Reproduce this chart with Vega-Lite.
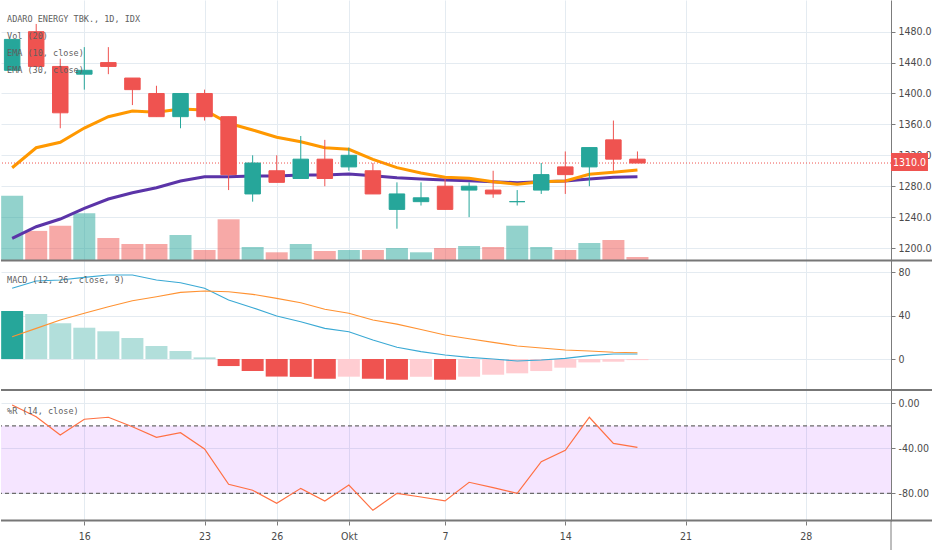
{
  "$schema": "https://vega.github.io/schema/vega-lite/v6.json",
  "padding": 0,
  "background": "#ffffff",
  "bounds": "flush",
  "spacing": 0,
  "config": {
    "view": {"stroke": null},
    "axis": {
      "labelFont": "'Liberation Sans Narrow', 'DejaVu Sans Condensed', 'Liberation Sans', sans-serif",
      "labelFontSize": 10.5,
      "labelColor": "#4a4a4a",
      "gridColor": "#e4ebf1",
      "gridWidth": 1,
      "tickColor": "#7c7c7c",
      "domainColor": "#7c7c7c",
      "labelFlush": false,
      "labelOverlap": false
    }
  },
  "datasets": {
    "bars": [
      {"i": -3, "date": "2019-09-11", "open": 1430, "high": 1470, "low": 1430, "close": 1470, "volume": 64.2, "ema10": 1303.9, "ema30": 1212.6, "macd": 65.3, "signal": 20.6, "hist": 44.3, "wr": -1.5},
      {"i": -2, "date": "2019-09-12", "open": 1480, "high": 1490, "low": 1435, "close": 1435, "volume": 29.1, "ema10": 1329.8, "ema30": 1227.6, "macd": 72.0, "signal": 28.3, "hist": 41.5, "wr": -11.9},
      {"i": -1, "date": "2019-09-13", "open": 1435, "high": 1445, "low": 1355, "close": 1375, "volume": 34.3, "ema10": 1336.8, "ema30": 1237.5, "macd": 72.9, "signal": 36.0, "hist": 33.0, "wr": -28.2},
      {"i": 0, "date": "2019-09-16", "open": 1425, "high": 1460, "low": 1405, "close": 1430, "volume": 46.7, "ema10": 1355.3, "ema30": 1251.4, "macd": 75.4, "signal": 42.2, "hist": 28.9, "wr": -14.2},
      {"i": 1, "date": "2019-09-17", "open": 1440, "high": 1460, "low": 1425, "close": 1435, "volume": 22.0, "ema10": 1370.0, "ema30": 1263.4, "macd": 77.5, "signal": 48.3, "hist": 25.6, "wr": -12.4},
      {"i": 2, "date": "2019-09-18", "open": 1420, "high": 1420, "low": 1385, "close": 1405, "volume": 16.0, "ema10": 1377.3, "ema30": 1271.6, "macd": 77.5, "signal": 53.8, "hist": 19.4, "wr": -20.8},
      {"i": 3, "date": "2019-09-19", "open": 1400, "high": 1410, "low": 1370, "close": 1370, "volume": 16.0, "ema10": 1375.7, "ema30": 1278.0, "macd": 72.9, "signal": 57.5, "hist": 12.0, "wr": -30.2},
      {"i": 4, "date": "2019-09-20", "open": 1370, "high": 1400, "low": 1355, "close": 1400, "volume": 25.0, "ema10": 1379.9, "ema30": 1286.7, "macd": 70.4, "signal": 61.5, "hist": 7.4, "wr": -26.1},
      {"i": 5, "date": "2019-09-23", "open": 1400, "high": 1405, "low": 1365, "close": 1370, "volume": 10.0, "ema10": 1378.6, "ema30": 1292.3, "macd": 65.3, "signal": 62.8, "hist": 1.5, "wr": -40.6},
      {"i": 6, "date": "2019-09-24", "open": 1370, "high": 1370, "low": 1275, "close": 1295, "volume": 40.7, "ema10": 1361.4, "ema30": 1292.3, "macd": 54.5, "signal": 62.1, "hist": -6.5, "wr": -72.0},
      {"i": 7, "date": "2019-09-25", "open": 1270, "high": 1320, "low": 1260, "close": 1310, "volume": 13.0, "ema10": 1352.8, "ema30": 1293.2, "macd": 47.4, "signal": 59.7, "hist": -11.1, "wr": -77.3},
      {"i": 8, "date": "2019-09-26", "open": 1300, "high": 1320, "low": 1285, "close": 1285, "volume": 7.7, "ema10": 1343.3, "ema30": 1293.2, "macd": 39.7, "signal": 56.0, "hist": -16.2, "wr": -88.9},
      {"i": 9, "date": "2019-09-27", "open": 1290, "high": 1345, "low": 1290, "close": 1315, "volume": 16.0, "ema10": 1337.6, "ema30": 1294.5, "macd": 34.4, "signal": 52.0, "hist": -16.5, "wr": -75.6},
      {"i": 10, "date": "2019-09-30", "open": 1315, "high": 1340, "low": 1280, "close": 1290, "volume": 9.0, "ema10": 1329.8, "ema30": 1294.5, "macd": 28.3, "signal": 45.9, "hist": -18.2, "wr": -86.8},
      {"i": 11, "date": "2019-10-01", "open": 1305, "high": 1330, "low": 1300, "close": 1320, "volume": 10.0, "ema10": 1327.8, "ema30": 1295.8, "macd": 25.2, "signal": 42.2, "hist": -16.3, "wr": -72.6},
      {"i": 12, "date": "2019-10-02", "open": 1300, "high": 1310, "low": 1270, "close": 1270, "volume": 10.0, "ema10": 1314.8, "ema30": 1293.6, "macd": 17.5, "signal": 36.0, "hist": -18.2, "wr": -95.1},
      {"i": 13, "date": "2019-10-03", "open": 1250, "high": 1285, "low": 1225, "close": 1270, "volume": 12.0, "ema10": 1304.0, "ema30": 1291.0, "macd": 10.8, "signal": 32.2, "hist": -19.1, "wr": -80.0},
      {"i": 14, "date": "2019-10-04", "open": 1260, "high": 1285, "low": 1255, "close": 1265, "volume": 7.7, "ema10": 1297.0, "ema30": 1289.3, "macd": 6.8, "signal": 27.2, "hist": -16.4, "wr": -83.3},
      {"i": 15, "date": "2019-10-07", "open": 1280, "high": 1290, "low": 1250, "close": 1250, "volume": 12.0, "ema10": 1291.5, "ema30": 1288.0, "macd": 3.7, "signal": 22.2, "hist": -19.1, "wr": -86.8},
      {"i": 16, "date": "2019-10-08", "open": 1275, "high": 1285, "low": 1240, "close": 1280, "volume": 14.0, "ema10": 1290.2, "ema30": 1287.1, "macd": 1.5, "signal": 18.7, "hist": -16.3, "wr": -70.2},
      {"i": 17, "date": "2019-10-09", "open": 1275, "high": 1300, "low": 1265, "close": 1270, "volume": 13.0, "ema10": 1285.8, "ema30": 1285.8, "macd": 0.0, "signal": 15.4, "hist": -14.5, "wr": -75.0},
      {"i": 18, "date": "2019-10-10", "open": 1260, "high": 1275, "low": 1255, "close": 1260, "volume": 34.3, "ema10": 1282.5, "ema30": 1284.5, "macd": -1.8, "signal": 12.0, "hist": -13.2, "wr": -80.0},
      {"i": 19, "date": "2019-10-11", "open": 1275, "high": 1310, "low": 1270, "close": 1295, "volume": 13.0, "ema10": 1285.8, "ema30": 1285.8, "macd": -0.9, "signal": 10.2, "hist": -11.1, "wr": -51.9},
      {"i": 20, "date": "2019-10-14", "open": 1305, "high": 1325, "low": 1270, "close": 1295, "volume": 10.0, "ema10": 1286.7, "ema30": 1286.7, "macd": 0.6, "signal": 8.3, "hist": -8.0, "wr": -41.8},
      {"i": 21, "date": "2019-10-15", "open": 1305, "high": 1330, "low": 1280, "close": 1330, "volume": 17.0, "ema10": 1295.4, "ema30": 1289.3, "macd": 3.1, "signal": 7.4, "hist": -3.1, "wr": -12.4},
      {"i": 22, "date": "2019-10-16", "open": 1340, "high": 1365, "low": 1300, "close": 1315, "volume": 20.0, "ema10": 1298.0, "ema30": 1291.5, "macd": 4.6, "signal": 6.2, "hist": -2.5, "wr": -35.6},
      {"i": 23, "date": "2019-10-17", "open": 1315, "high": 1325, "low": 1310, "close": 1310, "volume": 3.0, "ema10": 1301.0, "ema30": 1292.3, "macd": 4.6, "signal": 5.8, "hist": -1.0, "wr": -39.1}
    ]
  },
  "vconcat": [
    {
      "width": 890,
      "height": 260,
      "data": {"name": "bars"},
      "layer": [
        {
          "mark": {"type": "bar", "orient": "vertical", "size": 22, "opacity": 0.5},
          "encoding": {
            "x": {"field": "i", "type": "quantitative", "title": null, "scale": {"domain": [-3.464, 33.543], "nice": false, "zero": false, "padding": 0},
                  "axis": {"orient": "bottom", "values": [0, 5, 8, 11, 15, 20, 25, 30], "tickCount": 40, "grid": true, "labels": false, "ticks": false, "domain": false, "title": null}},
            "y": {"field": "volume", "type": "quantitative", "title": null, "scale": {"domain": [0, 260], "nice": false, "padding": 0}, "axis": null},
            "color": {"condition": {"test": "datum.close >= datum.open", "value": "#26a69a"}, "value": "#ef5350"}
          }
        },
        {
          "layer": [
            {
              "mark": {"type": "line", "color": "#5b34a8", "strokeWidth": 3, "clip": true},
              "encoding": {
                "x": {"field": "i", "type": "quantitative", "title": null},
                "y": {"field": "ema30", "type": "quantitative", "title": null, "scale": {"domain": [1184.5, 1521], "nice": false, "zero": false, "padding": 0},
                      "axis": {"orient": "right", "values": [1200, 1240, 1280, 1320, 1360, 1400, 1440, 1480], "tickCount": 40, "format": ".1f", "grid": true, "tickSize": 4, "labelPadding": 3, "domain": true, "title": null}}
              }
            },
            {
              "mark": {"type": "line", "color": "#ff9800", "strokeWidth": 3, "clip": true},
              "encoding": {
                "x": {"field": "i", "type": "quantitative", "title": null},
                "y": {"field": "ema10", "type": "quantitative", "title": null}
              }
            },
            {
              "data": {"values": [{}]},
              "mark": {"type": "rule", "color": "#ef5350", "strokeDash": [1, 2], "strokeWidth": 1},
              "encoding": {"y": {"datum": 1310, "type": "quantitative", "title": null}}
            },
            {
              "mark": {"type": "rule", "strokeWidth": 1},
              "encoding": {
                "x": {"field": "i", "type": "quantitative", "title": null},
                "y": {"field": "low", "type": "quantitative", "title": null},
                "y2": {"field": "high"},
                "color": {"condition": {"test": "datum.close >= datum.open", "value": "#26a69a"}, "value": "#ef5350"}
              }
            },
            {
              "mark": {"type": "bar", "orient": "vertical", "size": 15.5, "strokeWidth": 1},
              "encoding": {
                "x": {"field": "i", "type": "quantitative", "title": null},
                "y": {"field": "open", "type": "quantitative", "title": null},
                "y2": {"field": "close"},
                "fill": {"condition": {"test": "datum.close >= datum.open", "value": "#26a69a"}, "value": "#ef5350"},
                "stroke": {"condition": {"test": "datum.close >= datum.open", "value": "#26a69a"}, "value": "#ef5350"}
              }
            },
            {
              "data": {"values": [{}]},
              "mark": {"type": "text", "font": "DejaVu Sans Mono", "fontSize": 8.5, "lineHeight": 17, "align": "left", "baseline": "top", "color": "#5f5f5f"},
              "encoding": {
                "x": {"datum": -3.214, "type": "quantitative", "title": null},
                "y": {"datum": 1501.6, "type": "quantitative", "title": null},
                "text": {"value": ["ADARO ENERGY TBK., 1D, IDX", "Vol (20)", "EMA (10, close)", "EMA (30, close)"]}
              }
            },
            {
              "data": {"values": [{}]},
              "mark": {"type": "rect", "color": "#ef5350", "clip": false},
              "encoding": {
                "x": {"datum": 33.543, "type": "quantitative", "title": null},
                "x2": {"datum": 35.08},
                "y": {"datum": 1299.7, "type": "quantitative", "title": null},
                "y2": {"datum": 1323}
              }
            },
            {
              "data": {"values": [{}]},
              "mark": {"type": "text", "font": "'Liberation Sans Narrow', 'DejaVu Sans Condensed', 'Liberation Sans', sans-serif", "fontSize": 10.5, "align": "center", "baseline": "middle", "color": "#ffffff", "clip": false},
              "encoding": {
                "x": {"datum": 34.31, "type": "quantitative", "title": null},
                "y": {"datum": 1310, "type": "quantitative", "title": null},
                "text": {"value": "1310.0"}
              }
            }
          ]
        }
      ],
      "resolve": {"scale": {"y": "independent"}}
    },
    {
      "width": 890,
      "height": 130,
      "data": {"name": "bars"},
      "transform": [{"window": [{"op": "lag", "field": "hist", "as": "prev"}], "sort": [{"field": "i", "order": "ascending"}]}],
      "layer": [
        {
          "mark": {"type": "bar", "orient": "vertical", "size": 22},
          "encoding": {
            "x": {"field": "i", "type": "quantitative", "title": null, "scale": {"domain": [-3.464, 33.543], "nice": false, "zero": false, "padding": 0},
                  "axis": {"orient": "bottom", "values": [0, 5, 8, 11, 15, 20, 25, 30], "tickCount": 40, "grid": true, "labels": false, "ticks": false, "domain": false, "title": null}},
            "y": {"field": "hist", "type": "quantitative", "title": null, "scale": {"domain": [-28.6, 91.4], "nice": false, "zero": false, "padding": 0},
                  "axis": {"orient": "right", "values": [0, 40, 80], "tickCount": 20, "format": "d", "grid": true, "tickSize": 4, "labelPadding": 3, "domain": true, "title": null}},
            "color": {
              "condition": [
                {"test": "datum.hist >= 0 && (datum.prev == null || datum.hist >= datum.prev)", "value": "#26a69a"},
                {"test": "datum.hist >= 0", "value": "#b2dfdb"},
                {"test": "datum.hist < datum.prev", "value": "#ef5350"}
              ],
              "value": "#ffcdd2"
            }
          }
        },
        {
          "mark": {"type": "line", "color": "#3aa9d4", "strokeWidth": 1.1},
          "encoding": {
            "x": {"field": "i", "type": "quantitative", "title": null},
            "y": {"field": "macd", "type": "quantitative", "title": null}
          }
        },
        {
          "mark": {"type": "line", "color": "#ff9232", "strokeWidth": 1.1},
          "encoding": {
            "x": {"field": "i", "type": "quantitative", "title": null},
            "y": {"field": "signal", "type": "quantitative", "title": null}
          }
        },
        {
          "data": {"values": [{}]},
          "mark": {"type": "rule", "color": "#777777", "strokeWidth": 2, "clip": false},
          "encoding": {
            "x": {"datum": -3.464, "type": "quantitative", "title": null},
            "x2": {"datum": 35.4},
            "y": {"datum": 90.9, "type": "quantitative", "title": null}
          }
        },
        {
          "data": {"values": [{}]},
          "mark": {"type": "text", "font": "DejaVu Sans Mono", "fontSize": 8.5, "align": "left", "baseline": "middle", "color": "#5f5f5f"},
          "encoding": {
            "x": {"datum": -3.214, "type": "quantitative", "title": null},
            "y": {"datum": 72.9, "type": "quantitative", "title": null},
            "text": {"value": "MACD (12, 26, close, 9)"}
          }
        }
      ]
    },
    {
      "width": 890,
      "height": 131,
      "data": {"name": "bars"},
      "layer": [
        {
          "data": {"values": [{}]},
          "mark": {"type": "rect", "color": "#9c00ff", "opacity": 0.1},
          "encoding": {
            "x": {"datum": -3.464, "type": "quantitative", "title": null},
            "x2": {"datum": 33.543},
            "y": {"datum": -20, "type": "quantitative", "title": null},
            "y2": {"datum": -80}
          }
        },
        {
          "data": {"values": [{}]},
          "mark": {"type": "rule", "color": "#6b6b6b", "strokeDash": [4, 3], "strokeWidth": 1.3},
          "encoding": {"y": {"datum": -20, "type": "quantitative", "title": null}}
        },
        {
          "data": {"values": [{}]},
          "mark": {"type": "rule", "color": "#6b6b6b", "strokeDash": [4, 3], "strokeWidth": 1.3},
          "encoding": {"y": {"datum": -80, "type": "quantitative", "title": null}}
        },
        {
          "mark": {"type": "line", "color": "#ff7043", "strokeWidth": 1.2},
          "encoding": {
            "x": {"field": "i", "type": "quantitative", "title": null, "scale": {"domain": [-3.464, 33.543], "nice": false, "zero": false, "padding": 0},
                  "axis": {"orient": "bottom", "values": [0, 5, 8, 11, 15, 20, 25, 30], "tickCount": 40, "grid": true, "labels": true, "ticks": true, "tickSize": 4, "domain": false, "labelPadding": 6, "title": null,
                           "labelExpr": "datum.value == 0 ? '16' : datum.value == 5 ? '23' : datum.value == 8 ? '26' : datum.value == 11 ? 'Okt' : datum.value == 15 ? '7' : datum.value == 20 ? '14' : datum.value == 25 ? '21' : datum.value == 30 ? '28' : ''"}},
            "y": {"field": "wr", "type": "quantitative", "title": null, "scale": {"domain": [-104.6, 11.8], "nice": false, "zero": false, "padding": 0},
                  "axis": {"orient": "right", "values": [0, -40, -80], "tickCount": 20, "format": ".2f", "labelExpr": "replace(datum.label, '−', '-')", "grid": true, "tickSize": 4, "labelPadding": 3, "domain": true, "title": null}}
          }
        },
        {
          "data": {"values": [{}]},
          "mark": {"type": "rule", "color": "#777777", "strokeWidth": 2, "clip": false},
          "encoding": {
            "x": {"datum": -3.464, "type": "quantitative", "title": null},
            "x2": {"datum": 35.4},
            "y": {"datum": 11.8, "type": "quantitative", "title": null}
          }
        },
        {
          "data": {"values": [{}]},
          "mark": {"type": "rule", "color": "#777777", "strokeWidth": 2, "clip": false},
          "encoding": {
            "x": {"datum": -3.464, "type": "quantitative", "title": null},
            "x2": {"datum": 35.4},
            "y": {"datum": -104.2, "type": "quantitative", "title": null}
          }
        },
        {
          "data": {"values": [{}]},
          "mark": {"type": "rule", "color": "#7c7c7c", "strokeWidth": 1, "clip": false},
          "encoding": {
            "x": {"datum": 33.543, "type": "quantitative", "title": null},
            "y": {"datum": -104.6, "type": "quantitative", "title": null},
            "y2": {"datum": -131}
          }
        },
        {
          "data": {"values": [{}]},
          "mark": {"type": "text", "font": "DejaVu Sans Mono", "fontSize": 8.5, "align": "left", "baseline": "middle", "color": "#5f5f5f"},
          "encoding": {
            "x": {"datum": -3.214, "type": "quantitative", "title": null},
            "y": {"datum": -6.6, "type": "quantitative", "title": null},
            "text": {"value": "%R (14, close)"}
          }
        }
      ]
    }
  ]
}
